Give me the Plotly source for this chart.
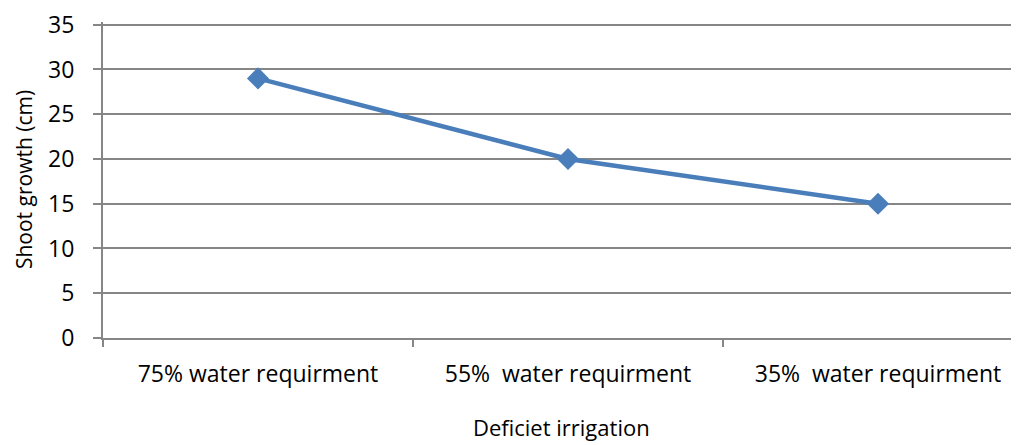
import plotly.graph_objects as go

categories = ["75% water requirment", "55%\u00a0 water requirment", "35%\u00a0 water requirment"]
values = [29, 20, 15]
y_ticks = [0, 5, 10, 15, 20, 25, 30, 35]

font = "Open Sans, Liberation Sans, sans-serif"
fs = 23

fig = go.Figure()
fig.add_trace(go.Scatter(
    x=categories, y=values, mode="lines+markers",
    line=dict(color="#4A7EBB", width=4.5),
    marker=dict(symbol="diamond", size=17, color="#4A7EBB"),
    showlegend=False, cliponaxis=False,
))

fig.update_layout(
    width=1011, height=437,
    margin=dict(l=95, r=0, t=11, b=107),
    plot_bgcolor="white", paper_bgcolor="white",
    font=dict(family=font, size=fs, color="#000000"),
    xaxis=dict(
        type="category", range=[-0.5, 2.4548],
        tickson="boundaries", ticks="outside", ticklen=7, tickcolor="#868686",
        tickwidth=2,
        showline=True, linecolor="#868686", linewidth=2,
        showgrid=False, zeroline=False,
        tickfont=dict(size=fs), ticklabelstandoff=14,
    ),
    yaxis=dict(
        range=[0, 35.3], tickvals=y_ticks,
        ticks="outside", ticklen=8, tickcolor="#868686", tickwidth=2,
        showline=True, linecolor="#868686", linewidth=2,
        showgrid=True, gridcolor="#868686", gridwidth=2,
        zeroline=False, ticklabeloverflow="allow",
        tickfont=dict(size=fs), ticklabelstandoff=14,
    ),
    annotations=[
        dict(text="Deficiet irrigation", xref="paper", yref="paper",
             x=0.5, y=-0.283, xanchor="center", yanchor="middle",
             showarrow=False, font=dict(size=22)),
        dict(text="Shoot growth (cm)", xref="paper", yref="paper",
             x=-0.0862, y=0.5, xanchor="center", yanchor="middle",
             textangle=-90, showarrow=False, font=dict(size=21)),
    ],
)

fig.write_html("out.html")
